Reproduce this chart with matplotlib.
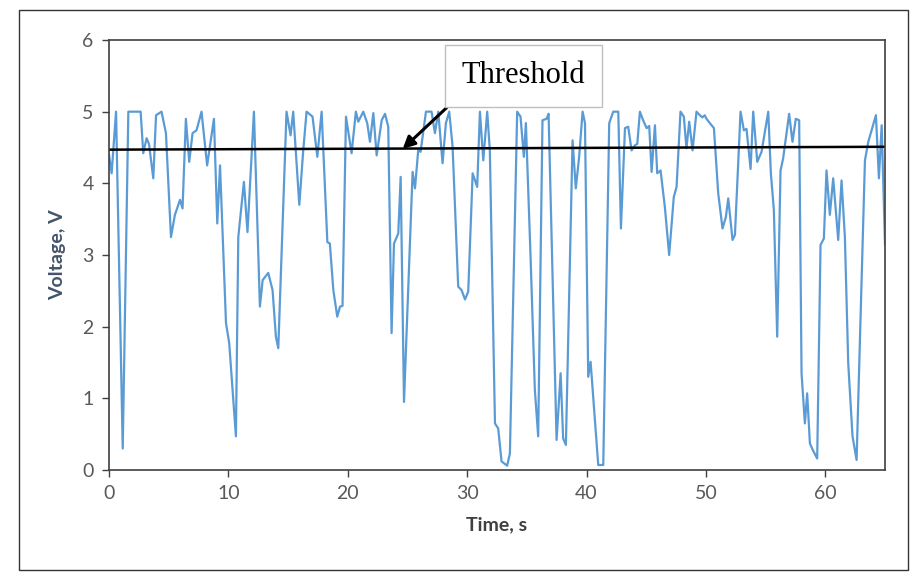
import matplotlib
matplotlib.use("Agg")
import matplotlib.pyplot as plt
from matplotlib.patches import Rectangle

# voltage trace
time_s = [
    0.0, 0.22, 0.59, 1.15, 1.62, 2.65, 2.87, 3.15, 3.35, 3.71, 3.94, 4.4, 4.77,
    5.19, 5.52, 5.95, 6.16, 6.44, 6.72, 7.0, 7.33, 7.75, 8.22, 8.79, 9.07, 9.3,
    9.8, 10.07, 10.63, 10.83, 11.3, 11.6, 12.14, 12.64, 12.87, 13.34, 13.7,
    13.98, 14.18, 14.87, 15.21, 15.43, 15.94, 16.27, 16.55, 17.05, 17.45, 17.81,
    18.29, 18.5, 18.79, 19.12, 19.35, 19.56, 19.85, 20.32, 20.68, 20.88, 21.3,
    21.63, 21.86, 22.14, 22.42, 22.84, 23.12, 23.39, 23.67, 23.87, 24.23, 24.43,
    24.71, 25.43, 25.63, 25.9, 26.1, 26.55, 27.02, 27.3, 27.58, 27.94, 28.22,
    28.5, 28.78, 29.25, 29.53, 29.82, 30.09, 30.46, 30.84, 31.07, 31.35, 31.68,
    31.9, 32.33, 32.6, 32.88, 33.35, 33.58, 34.19, 34.47, 34.75, 34.92, 35.31,
    35.67, 35.95, 36.31, 36.65, 36.82, 37.49, 37.83, 38.04, 38.27, 38.83, 39.1,
    39.38, 39.67, 39.87, 40.14, 40.34, 40.98, 41.4, 41.9, 42.24, 42.66, 42.88,
    43.22, 43.49, 43.77, 44.05, 44.25, 44.47, 44.74, 45.03, 45.25, 45.45, 45.73,
    45.92, 46.2, 46.56, 46.92, 47.31, 47.54, 47.87, 48.15, 48.37, 48.6, 48.88,
    49.21, 49.49, 49.7, 49.9, 50.05, 50.33, 50.67, 51.03, 51.39, 51.67, 51.87,
    52.23, 52.43, 52.9, 53.18, 53.4, 53.74, 53.96, 54.3, 54.66, 55.22, 55.44,
    55.69, 55.97, 56.25, 56.47, 56.97, 57.25, 57.53, 57.81, 58.01, 58.29, 58.48,
    58.71, 58.95, 59.32, 59.6, 59.88, 60.1, 60.38, 60.66, 61.08, 61.36, 61.64,
    61.92, 62.28, 62.62, 63.32, 63.6, 63.96, 64.24, 64.49, 64.72, 65.0,
]
voltage_v = [
    4.4, 4.14, 5.0, 0.3, 5.0, 5.0, 4.42, 4.63, 4.55, 4.07, 4.95, 5.0, 4.7,
    3.25, 3.56, 3.77, 3.65, 4.9, 4.3, 4.7, 4.74, 5.0, 4.25, 4.9, 3.44, 4.25,
    2.05, 1.77, 0.47, 3.25, 4.02, 3.32, 5.0, 2.28, 2.65, 2.75, 2.51,
    1.86, 1.7, 5.0, 4.67, 5.0, 3.7, 4.46, 5.0, 4.93, 4.37, 5.0,
    3.18, 3.16, 2.51, 2.14, 2.28, 2.29, 4.93, 4.42, 5.0, 4.86, 5.0,
    4.84, 4.58, 4.98, 4.39, 4.88, 4.97, 4.79, 1.91, 3.16, 3.3, 4.09,
    0.95, 4.16, 3.93, 4.46, 4.44, 5.0, 5.0, 4.7, 5.0, 4.28, 4.84,
    5.0, 4.51, 2.56, 2.51, 2.38, 2.49, 4.14, 3.95, 5.0, 4.32, 5.0,
    4.46, 0.65, 0.58, 0.12, 0.06, 0.23, 5.0, 4.93, 4.37, 4.84, 2.98,
    1.12, 0.47, 4.88, 4.9, 4.97, 0.42, 1.35, 0.44, 0.35, 4.6, 3.93,
    4.37, 5.0, 4.84, 1.3, 1.51, 0.07, 0.07, 4.84, 5.0, 5.0, 3.37,
    4.77, 4.79, 4.46, 4.53, 4.55, 5.0, 4.88, 4.77, 4.8, 4.16, 4.81,
    4.14, 4.18, 3.67, 3.0, 3.81, 3.95, 5.0, 4.93, 4.49, 4.86, 4.46,
    5.0, 4.95, 4.92, 4.95, 4.9, 4.84, 4.77, 3.86, 3.37, 3.53, 3.79,
    3.21, 3.28, 5.0, 4.74, 4.76, 4.2, 5.0, 4.3, 4.44, 5.0, 4.14,
    3.63, 1.86, 4.18, 4.35, 4.97, 4.58, 4.9, 4.88, 1.35, 0.65, 1.07,
    0.37, 0.28, 0.16, 3.14, 3.23, 4.18, 3.56, 4.07, 3.21, 4.04, 3.25,
    1.49, 0.47, 0.14, 4.32, 4.58, 4.79, 4.95, 4.07, 4.81, 3.15,
]

threshold_t = [0, 65]
threshold_v = [4.47, 4.51]

x_ticks = [0, 10, 20, 30, 40, 50, 60]
y_ticks = [0, 1, 2, 3, 4, 5, 6]

plt.rcParams["font.family"] = ["Lato", "DejaVu Sans"]

fig = plt.figure(figsize=(9.1, 5.77), dpi=100)
fig.patches.append(Rectangle((19 / 910, 7 / 577), 889 / 910, 560 / 577,
                             transform=fig.transFigure, fill=False,
                             edgecolor="#333333", linewidth=1.0))

ax = fig.add_axes([109 / 910, 107 / 577, 776 / 910, 430 / 577])
ax.plot(time_s, voltage_v, color="#5b9bd5", linewidth=1.6)
ax.plot(threshold_t, threshold_v, color="black", linewidth=1.8)

ax.set_xlim(0, 65)
ax.set_ylim(0, 6)
ax.set_xticks(x_ticks)
ax.set_yticks(y_ticks)
ax.tick_params(axis="both", direction="out", length=5, width=1,
               color="#404040", labelsize=14, labelcolor="#595959", pad=6)
for side in ["left", "bottom", "right", "top"]:
    ax.spines[side].set_color("#404040")
    ax.spines[side].set_linewidth(1.2)

ax.set_xlabel("Time, s", fontsize=14, fontweight="bold", color="#404040", labelpad=10)
ax.set_ylabel("Voltage, V", fontsize=14, fontweight="bold", color="#44546a", labelpad=12)

ax.annotate("Threshold", xy=(24.6, 4.48), xytext=(34.7, 5.5),
            ha="center", va="center", fontsize=22, family="Liberation Serif",
            bbox=dict(boxstyle="square,pad=0.55", facecolor="white", edgecolor="#bfbfbf"),
            arrowprops=dict(arrowstyle="-|>", color="black", lw=2.2,
                            mutation_scale=18, shrinkA=0, shrinkB=0,
                            relpos=(0.03, 0.0)))

fig.savefig("out.png", dpi=100)
